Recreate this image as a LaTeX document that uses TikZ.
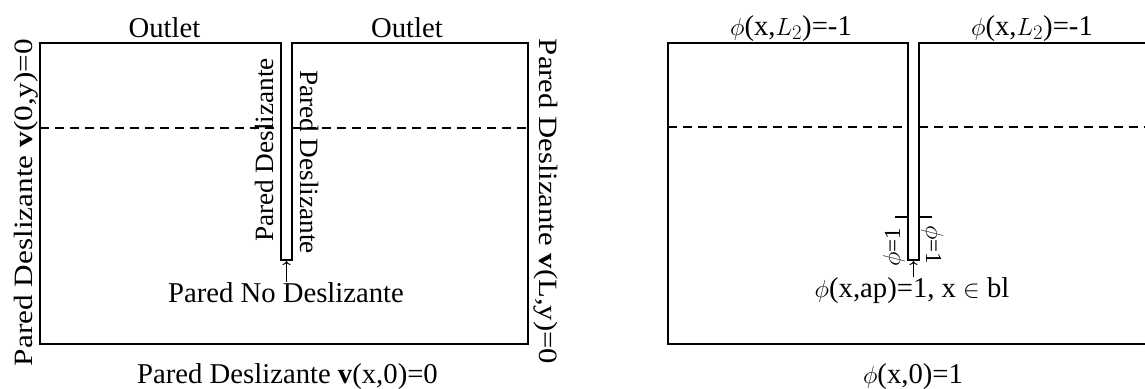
\documentclass[tikz,border=0pt]{standalone}
\usepackage{fontspec}
\setmainfont{Liberation Serif}
\usetikzlibrary{arrows.meta}
\begin{document}
\begin{tikzpicture}[x=1pt,y=-1pt,
  wall/.style={line width=1.6pt},
  cut/.style={line width=1.4pt, dash pattern=on 9pt off 6pt},
  lbl/.style={inner sep=0pt, font=\fontsize{28.7}{32}\selectfont},
  small/.style={inner sep=0pt, font=\fontsize{23}{26}\selectfont},
  pointer/.style={line width=0.9pt, -{To[length=4pt,width=8pt]}}]
\useasboundingbox (0,0) rectangle (1145,388);
% ---------- left panel ----------
\draw[wall] (281,260) -- (281,43) -- (40,43) -- (40,344) -- (528,344) -- (528,43) -- (292,43) -- (292,260) -- cycle;
\draw[cut] (40,128) -- (281,128);
\draw[cut] (292,128) -- (528,128);
\coordinate (slitL) at (286.5,261);
\node[lbl, anchor=base] (outL1) at (164.5,37) {Outlet};
\node[lbl, anchor=base] (outL2) at (407,37) {Outlet};
\node[lbl, anchor=base, rotate=90] (wallW) at (32,202.5) {\scalebox{1.088}[0.92]{Pared Deslizante \textbf{v}(0,y)=0}};
\node[lbl, anchor=base, rotate=-90] (wallE) at (539,201.5) {\scalebox{1.07}[0.92]{Pared Deslizante \textbf{v}(L,y)=0}};
\node[lbl, anchor=base, rotate=90] (slitW) at (273,150) {\scalebox{0.95}[0.92]{Pared Deslizante}};
\node[lbl, anchor=base, rotate=-90] (slitE) at (300,162) {\scalebox{0.95}[0.92]{Pared Deslizante}};
\node[lbl, anchor=base] (noslip) at (286,302) {Pared No Deslizante};
\node[lbl, anchor=base] (bottomL) at (287.5,383) {Pared Deslizante \textbf{v}(x,0)=0};
\draw[pointer] (noslip.north -| slitL) -- (slitL);
% ---------- right panel ----------
\draw[wall] (1146,43) -- (919,43) -- (919,260) -- (908,260) -- (908,43) -- (668,43) -- (668,344) -- (1146,344);
\draw[cut] (668,127) -- (908,127);
\draw[cut] (919,127) -- (1145,127);
\draw[line width=1.2pt] (895,217) -- (908,217);
\draw[line width=1.2pt] (919,217) -- (932,217);
\coordinate (slitR) at (913.5,261);
\node[lbl, anchor=base] (topR1) at (791,35) {$\phi$(x,$L_2$)=-1};
\node[lbl, anchor=base] (topR2) at (1032,35) {$\phi$(x,$L_2$)=-1};
\node[small, anchor=base, rotate=90] (phiW) at (900,247) {$\phi$=1};
\node[small, anchor=base, rotate=-90] (phiE) at (926,245) {$\phi$=1};
\node[lbl, anchor=base] (apR) at (912,297) {$\phi$(x,ap)=1, x $\in$ bl};
\node[lbl, anchor=base] (bottomR) at (913,383) {$\phi$(x,0)=1};
\draw[pointer] (apR.north -| slitR) -- (slitR);
\end{tikzpicture}
\end{document}
